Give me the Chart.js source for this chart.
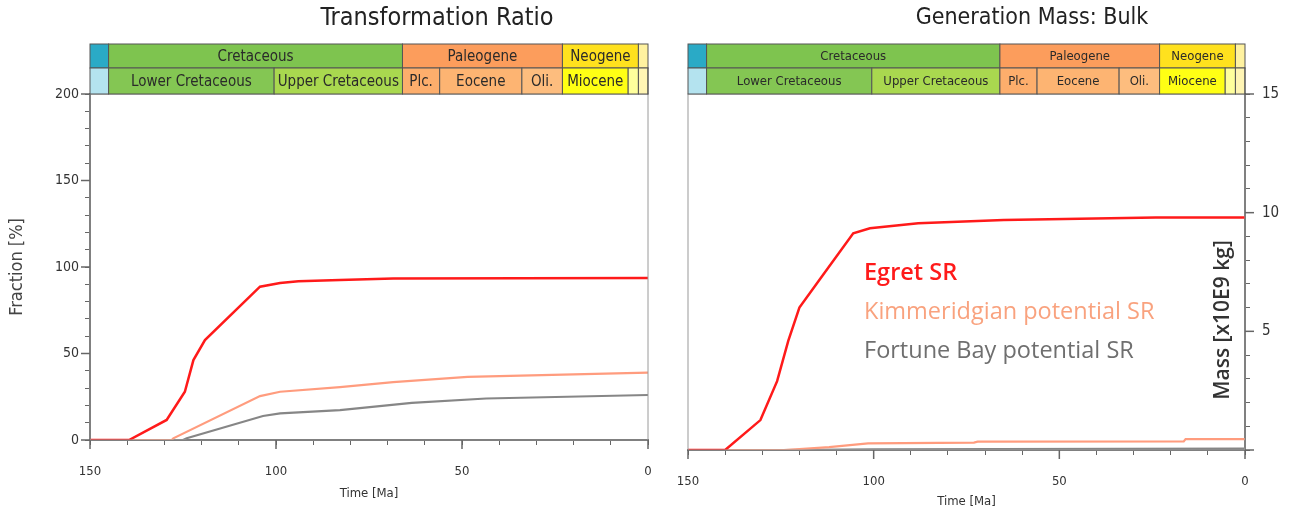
<!DOCTYPE html>
<html>
<head>
<meta charset="utf-8">
<script src="https://cdn.jsdelivr.net/npm/chart.js@4.4.1/dist/chart.umd.min.js"></script>
<style>
    body { margin: 0; background: #fff; }
    #wrap { position: relative; width: 1301px; height: 510px; overflow: hidden; }
    .box { position: absolute; top: 0; height: 510px; }
</style>
</head>
<body>
<div id="wrap">
    <div class="box" style="left:0;width:660px"><canvas id="ratioChart" width="660" height="510"></canvas></div>
    <div class="box" style="left:660px;width:641px"><canvas id="massChart" width="641" height="510"></canvas></div>
</div>
<script>
// ---- data (ages in Ma) ----
const egretAgeTR = [150, 143, 139.5, 129.4, 124.5, 122.2, 119.1, 104.3, 98.9, 94, 82.8, 68.5, 0];
const egretTR    = [0, 0, 0, 11.6, 27.9, 46.2, 57.8, 88.6, 90.8, 91.8, 92.5, 93.3, 93.6];
const kimAgeTR   = [150, 128, 127.6, 104.3, 98.9, 82.8, 68.5, 48.5, 0];
const kimTR      = [0, 0, 1, 25.4, 27.9, 30.6, 33.5, 36.5, 39];
const fortAgeTR  = [150, 125, 124, 103.5, 98.9, 82.8, 63.5, 43.5, 0];
const fortTR     = [0, 0, 1, 13.9, 15.4, 17.3, 21.5, 24, 26];

const egretAgeM  = [150, 140, 130.5, 126, 123, 120, 114, 105.5, 101, 88, 65, 24, 0];
const egretM     = [0, 0, 1.26, 2.9, 4.6, 6.0, 7.3, 9.13, 9.34, 9.55, 9.69, 9.8, 9.8];
const kimAgeM    = [150, 124, 112, 101.5, 73, 72, 16.5, 16, 0];
const kimM       = [0, 0, 0.12, 0.28, 0.31, 0.35, 0.36, 0.46, 0.46];
const fortAgeM   = [150, 125, 100, 0];
const fortM      = [0, 0, 0.03, 0.06];

const seriesNames = ['Egret SR', 'Kimmeridgian potential SR', 'Fortune Bay potential SR'];

// geologic time scale: [start, end, label]
const periods = [
    [150, 145, ''], [145, 66, 'Cretaceous'], [66, 23, 'Paleogene'], [23, 2.58, 'Neogene'], [2.58, 0, '']
];
const epochs = [
    [150, 145, ''], [145, 100.5, 'Lower Cretaceous'], [100.5, 66, 'Upper Cretaceous'],
    [66, 56, 'Plc.'], [56, 33.9, 'Eocene'], [33.9, 23, 'Oli.'], [23, 5.33, 'Miocene'],
    [5.33, 2.58, ''], [2.58, 0.0117, ''], [0.0117, 0, '']
];
const periodColors = ['#2aaac6', '#7ec44f', '#fc9d5c', '#ffe11e', '#fff2a0'];
const epochColors  = ['#b4e3ef', '#84c653', '#a9d84f', '#fdae6c', '#fdb472', '#fdbd7e', '#ffff14', '#ffff9c', '#fff5b4', '#fff8d0'];

const narrow = "'Liberation Sans Narrow', 'DejaVu Sans Condensed', 'Roboto Condensed', sans-serif";
const RED = '#ff1a1a';
const SALMON = '#ff9c7e';
const GREY = '#868686';

function toPoints(ages, vals) {
    return ages.map((a, i) => ({ x: a, y: vals[i] }));
}

function drawRow(ctx, xs, rows, colors, top, h, fontSize) {
    rows.forEach((r, i) => {
        const x1 = xs.getPixelForValue(r[0]);
        const x2 = xs.getPixelForValue(r[1]);
        ctx.fillStyle = colors[i];
        ctx.fillRect(x1, top, x2 - x1, h);
        ctx.strokeStyle = '#555';
        ctx.lineWidth = 1;
        ctx.strokeRect(x1, top, x2 - x1, h);
        if (r[2]) {
            ctx.fillStyle = '#2a2a2a';
            ctx.font = fontSize + 'px ' + narrow;
            ctx.textAlign = 'center';
            ctx.textBaseline = 'middle';
            ctx.fillText(r[2], (x1 + x2) / 2, top + h / 2 + 1);
        }
    });
}

// longer tick marks on the labelled values
function majorTicks(ctx, scale, values, horizontal, side) {
    ctx.strokeStyle = '#666';
    ctx.lineWidth = 1.5;
    values.forEach(v => {
        const p = scale.getPixelForValue(v);
        ctx.beginPath();
        if (horizontal) {
            ctx.moveTo(p, scale.top);
            ctx.lineTo(p, scale.top + 9);
        } else if (side === 'left') {
            ctx.moveTo(scale.right, p);
            ctx.lineTo(scale.right - 9, p);
        } else {
            ctx.moveTo(scale.left, p);
            ctx.lineTo(scale.left + 9, p);
        }
        ctx.stroke();
    });
}

function makeDecor(title, titleX, titleSize, headerFont, yMajors, ySide) {
    return {
        id: 'decor',
        afterDraw(chart) {
            const ctx = chart.ctx;
            const a = chart.chartArea;
            const xs = chart.scales.x;
            ctx.save();
            // frame
            ctx.strokeStyle = '#9a9a9a';
            ctx.lineWidth = 1;
            ctx.strokeRect(a.left, a.top, a.right - a.left, a.bottom - a.top);
            majorTicks(ctx, xs, [150, 100, 50, 0], true);
            majorTicks(ctx, chart.scales.y, yMajors, false, ySide);
            // stratigraphy header
            drawRow(ctx, xs, periods, periodColors, a.top - 50, 24, headerFont);
            drawRow(ctx, xs, epochs, epochColors, a.top - 26, 26, headerFont);
            // title
            ctx.fillStyle = '#222';
            ctx.font = titleSize + 'px ' + narrow;
            ctx.textAlign = 'center';
            ctx.textBaseline = 'middle';
            ctx.fillText(title, titleX, 18);
            ctx.restore();
        }
    };
}

function lineSet(label, pts, color, width) {
    return {
        label: label,
        data: pts,
        borderColor: color,
        borderWidth: width,
        pointRadius: 0,
        tension: 0,
        fill: false
    };
}

function xAxis(height, titlePad) {
    return {
        type: 'linear',
        reverse: true,
        min: 0,
        max: 150,
        ticks: {
            stepSize: 10,
            autoSkip: false,
            maxRotation: 0,
            color: '#333',
            font: { family: narrow, size: 13 },
            padding: 19,
            callback: v => (v % 50 === 0 ? v : '')
        },
        grid: { drawOnChartArea: false, tickLength: 5, color: '#666' },
        border: { color: '#666', width: 2 },
        title: {
            display: true,
            text: 'Time [Ma]',
            color: '#333',
            font: { family: narrow, size: 13 },
            padding: { top: 0, bottom: titlePad }
        },
        afterFit(s) {
            s.height = height;
            s.paddingLeft = 0;
            s.paddingRight = 0;
        }
    };
}

// ---- left: transformation ratio ----
new Chart(document.getElementById('ratioChart').getContext('2d'), {
    type: 'line',
    data: {
        datasets: [
            lineSet(seriesNames[0], toPoints(egretAgeTR, egretTR), RED, 2.5),
            lineSet(seriesNames[1], toPoints(kimAgeTR, kimTR), SALMON, 2.2),
            lineSet(seriesNames[2], toPoints(fortAgeTR, fortTR), GREY, 2.2)
        ]
    },
    options: {
        responsive: false,
        animation: false,
        layout: { padding: { top: 94, right: 12, left: 0, bottom: 0 } },
        plugins: { legend: { display: false }, tooltip: { enabled: false } },
        scales: {
            x: xAxis(70, 9),
            y: {
                min: 0,
                max: 200,
                ticks: {
                    stepSize: 10,
                    autoSkip: false,
                    color: '#333',
                    font: { family: narrow, size: 14 },
                    padding: 6,
                    callback: v => (v % 50 === 0 ? v : '')
                },
                grid: { drawOnChartArea: false, tickLength: 5, color: '#666' },
                border: { color: '#666', width: 2 },
                title: {
                    display: true,
                    text: 'Fraction [%]',
                    color: '#444',
                    font: { family: narrow, size: 18 },
                    padding: { top: 7, bottom: 0 }
                },
                afterFit(s) { s.width = 90; }
            }
        }
    },
    plugins: [makeDecor('Transformation Ratio', 437, 25, 15, [0, 50, 100, 150, 200], 'left')]
});

// ---- right: generation mass ----
const massLegend = {
    id: 'massLegend',
    afterDraw(chart) {
        const ctx = chart.ctx;
        const a = chart.chartArea;
        ctx.save();
        ctx.textAlign = 'left';
        ctx.textBaseline = 'middle';
        const colors = [RED, '#f9a27e', '#6f6f6f'];
        seriesNames.forEach((name, i) => {
            ctx.fillStyle = colors[i];
            ctx.font = (i === 0 ? '600 ' : '') + '23.5px "Open Sans", sans-serif';
            ctx.fillText(name, a.left + 176, 273 + i * 39);
        });
        // y axis title sits inside the plot
        ctx.translate(a.right - 22, 320);
        ctx.rotate(-Math.PI / 2);
        ctx.textAlign = 'center';
        ctx.fillStyle = '#333';
        ctx.font = '600 21px "Open Sans", sans-serif';
        ctx.fillText('Mass [x10E9 kg]', 0, 0);
        ctx.restore();
    }
};

new Chart(document.getElementById('massChart').getContext('2d'), {
    type: 'line',
    data: {
        datasets: [
            lineSet(seriesNames[0], toPoints(egretAgeM, egretM), RED, 2.5),
            lineSet(seriesNames[1], toPoints(kimAgeM, kimM), SALMON, 2.2),
            lineSet(seriesNames[2], toPoints(fortAgeM, fortM), GREY, 2.2)
        ]
    },
    options: {
        responsive: false,
        animation: false,
        layout: { padding: { top: 94, right: 0, left: 28, bottom: 0 } },
        plugins: { legend: { display: false }, tooltip: { enabled: false } },
        scales: {
            x: xAxis(60, 1),
            y: {
                position: 'right',
                min: 0,
                max: 15,
                ticks: {
                    stepSize: 1,
                    autoSkip: false,
                    color: '#333',
                    font: { family: narrow, size: 15 },
                    padding: 12,
                    callback: v => (v > 0 && v % 5 === 0 ? v : '')
                },
                grid: { drawOnChartArea: false, tickLength: 5, color: '#666' },
                border: { color: '#666', width: 2 },
                afterFit(s) { s.width = 56; }
            }
        }
    },
    plugins: [makeDecor('Generation Mass: Bulk', 372, 23, 13, [0, 5, 10, 15], 'right'), massLegend]
});
</script>
</body>
</html>
